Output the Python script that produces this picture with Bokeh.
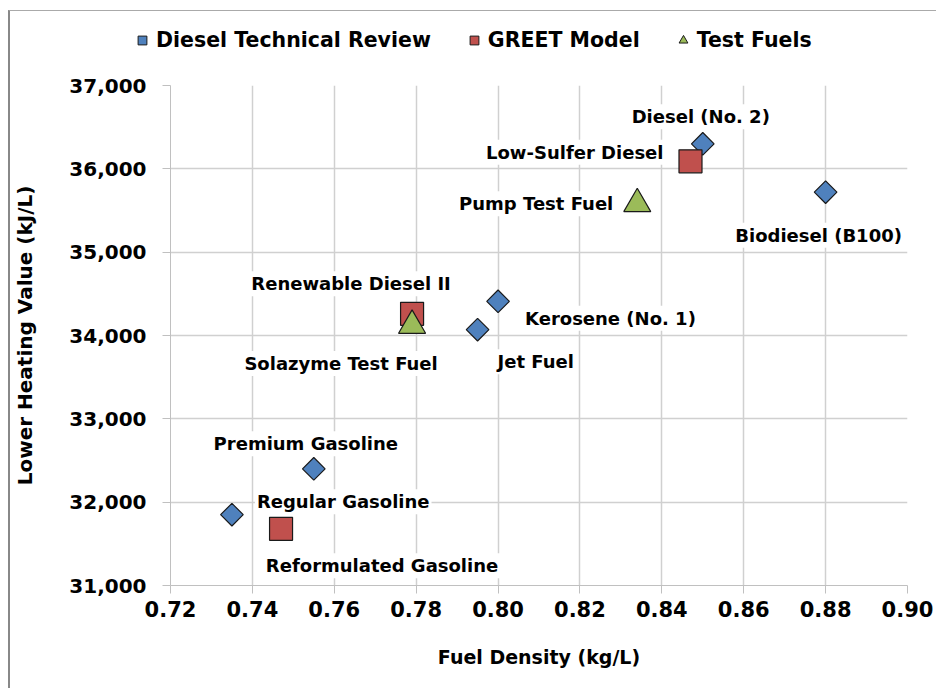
from bokeh.plotting import figure
from bokeh.layouts import column
from bokeh.models import ColumnDataSource, Legend, LegendItem, NumeralTickFormatter, FixedTicker, Range1d
from bokeh.core.properties import value
from bokeh.embed import file_html
from bokeh.resources import INLINE
import math

# ---- data ----
dtr_names = ["Diesel (No. 2)", "Biodiesel (B100)", "Kerosene (No. 1)", "Jet Fuel",
             "Premium Gasoline", "Regular Gasoline"]
dtr_density = [0.850, 0.880, 0.800, 0.795, 0.755, 0.735]
dtr_lhv = [36300, 35720, 34410, 34070, 32400, 31850]

greet_names = ["Low-Sulfer Diesel", "Renewable Diesel II", "Reformulated Gasoline"]
greet_density = [0.847, 0.779, 0.747]
greet_lhv = [36090, 34260, 31680]

test_names = ["Pump Test Fuel", "Solazyme Test Fuel"]
test_density = [0.834, 0.779]
test_lhv = [35580, 34120]

series_names = ["Diesel Technical Review", "GREET Model", "Test Fuels"]

x_ticks = [0.72, 0.74, 0.76, 0.78, 0.80, 0.82, 0.84, 0.86, 0.88, 0.90]
y_ticks = [31000, 32000, 33000, 34000, 35000, 36000, 37000]

# label placement (pixel offsets from point, alignment)
dtr_lab = [(-2, -27, "center"), (-7, 43, "center"), (25, 17, "left"), (18, 32, "left"),
           (-8, -25, "center"), (23, -13, "left")]
greet_lab = [(-25, -9, "right"), (-61, -30, "center"), (101, 37, "center")]
test_lab = [(-22, 0, "right"), (-71, 38, "center")]

FONT = "DejaVu Sans"
STYLES = [dict(marker="square", angle=math.pi / 4, size=16, fill_color="#4F81BD"),
          dict(marker="square", angle=0, size=23, fill_color="#C0504D"),
          dict(marker="triangle", angle=0, size=27, fill_color="#9BBB59")]
LEG_SIZES = [11, 15, 16]

p = figure(width=926, height=617, output_backend="svg", toolbar_location=None,
           x_range=Range1d(0.72, 0.90), y_range=Range1d(31000, 37000),
           min_border_left=160, min_border_right=29, min_border_top=14, min_border_bottom=103)
p.outline_line_color = None
p.background_fill_color = "white"
p.border_fill_color = "white"

for ax in (p.xaxis, p.yaxis):
    ax.axis_line_color = "#c0c0c0"
    ax.major_tick_line_color = "#c0c0c0"
    ax.major_tick_out = 8
    ax.major_tick_in = 0
    ax.minor_tick_line_color = None
    ax.major_label_text_font = FONT
    ax.major_label_text_font_style = "bold"
    ax.major_label_text_color = "black"
    ax.axis_label_text_font = FONT
    ax.axis_label_text_font_style = "bold"
    ax.axis_label_text_color = "black"

p.xaxis.major_label_text_font_size = "21px"
p.yaxis.major_label_text_font_size = "20px"
p.xaxis.axis_label_text_font_size = "19px"
p.yaxis.axis_label_text_font_size = "20px"
p.xaxis.ticker = FixedTicker(ticks=x_ticks)
p.yaxis.ticker = FixedTicker(ticks=y_ticks)
p.xaxis.formatter = NumeralTickFormatter(format="0.00")
p.yaxis.formatter = NumeralTickFormatter(format="0,0")
p.xaxis.axis_label = "Fuel Density (kg/L)"
p.yaxis.axis_label = "Lower Heating Value (kJ/L)"
p.xaxis.major_label_standoff = 7
p.yaxis.major_label_standoff = 16
p.xaxis.axis_label_standoff = 26
p.yaxis.axis_label_standoff = 29

p.xgrid.grid_line_color = "#d0d0d0"
p.ygrid.grid_line_color = "#d0d0d0"
p.xgrid.grid_line_width = 1.5
p.ygrid.grid_line_width = 1.5


def labels(names, xs, ys, lab):
    src = ColumnDataSource(dict(x=xs, y=ys, t=names,
                                dx=[l[0] for l in lab], dy=[l[1] for l in lab],
                                al=[l[2] for l in lab]))
    p.text(x="x", y="y", text="t", source=src, x_offset="dx", y_offset="dy",
           text_align="al", text_baseline="middle",
           text_font=value(FONT), text_font_style="bold", text_font_size="18px",
           text_color="black", background_fill_color="white",
           padding=2)


labels(dtr_names, dtr_density, dtr_lhv, dtr_lab)
labels(greet_names, greet_density, greet_lhv, greet_lab)
labels(test_names, test_density, test_lhv, test_lab)

all_x = [dtr_density, greet_density, test_density]
all_y = [dtr_lhv, greet_lhv, test_lhv]
for xs, ys, st in zip(all_x, all_y, STYLES):
    p.scatter(xs, ys, line_color="#1a1a1a", line_width=1.2, **st)

# ---- legend strip (separate figure on top; its ranges keep the points out of view) ----
lg = figure(width=926, height=60, output_backend="svg", toolbar_location=None,
            x_range=Range1d(0, 1), y_range=Range1d(0, 1),
            x_axis_type=None, y_axis_type=None,
            min_border_left=0, min_border_right=0, min_border_top=0, min_border_bottom=0)
lg.outline_line_color = None
lg.xgrid.visible = False
lg.ygrid.visible = False
for fig in (lg, p):
    try:
        fig.frame_align = False
    except Exception:
        pass

items = []
for name, xs, ys, st, sz in zip(series_names, all_x, all_y, STYLES, LEG_SIZES):
    st2 = dict(st)
    st2["size"] = sz
    r = lg.scatter(xs, ys, line_color="#1a1a1a", line_width=1, **st2)
    items.append(LegendItem(label=name, renderers=[r]))
legend = Legend(items=items, orientation="horizontal", location=(121, 19),
                label_text_font=FONT, label_text_font_style="bold",
                label_text_font_size="20.5px", label_text_color="black", spacing=32,
                glyph_width=22, glyph_height=22, label_standoff=3,
                border_line_color=None, background_fill_alpha=0,
                margin=0, padding=4)
lg.add_layout(legend, "center")

layout = column(lg, p, spacing=0)
layout.margin = (10, 0, 0, 8)
layout.styles = {"border-left": "2px solid #888888", "border-top": "1px solid #aaaaaa"}

open("out.html", "w").write(file_html(layout, INLINE))
